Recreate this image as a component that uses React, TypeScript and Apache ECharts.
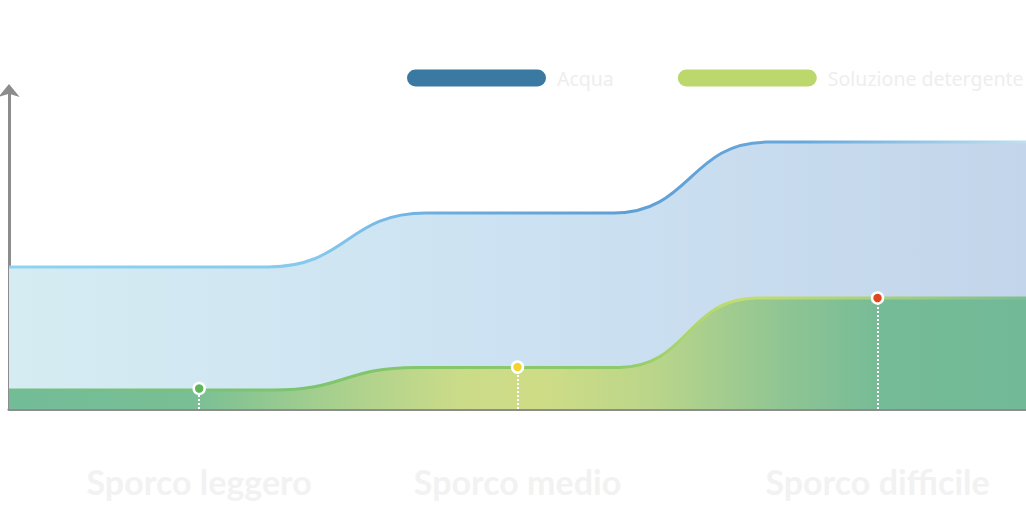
import { useEffect, useRef } from "react";
import * as echarts from "echarts";

// ---- data ----
const seriesNames = ["Acqua", "Soluzione detergente"];
// x in 0..100 across the plot, y in 0..100 of the axis height
const acquaX = [0, 25.5, 41, 59.5, 74.5, 100];
const acquaY = [44.4, 44.4, 61.25, 61.25, 83.4, 83.4];
const soluzioneX = [0, 26, 40, 60, 73.5, 100];
const soluzioneY = [5.9, 5.9, 13.0, 13.0, 34.7, 34.7];

const categories = ["Sporco leggero", "Sporco medio", "Sporco difficile"];
const categoryX = [18.7, 50, 85.4];
const markerY = [6.4, 13.1, 34.7];
const markerColors = ["#5db65a", "#f3d42c", "#e0471e"];

const LEGEND_ICON = "path://M8.5 0H130.5A8.5 8.5 0 0 1 130.5 17H8.5A8.5 8.5 0 0 1 8.5 0Z";

function pairs(xs: number[], ys: number[]) {
  return xs.map((x, i) => [x, ys[i]]);
}

function hGrad(stops: [number, string][]) {
  return new echarts.graphic.LinearGradient(
    0, 0, 1, 0,
    stops.map(([offset, color]) => ({ offset, color }))
  );
}

function buildOption(): echarts.EChartsOption {
  return {
    animation: false,
    backgroundColor: "#ffffff",
    legend: {
      left: 407,
      top: 68,
      width: 700,
      padding: 0,
      itemWidth: 139,
      itemHeight: 17,
      itemGap: 64,
      textStyle: {
        color: "#eeeeee",
        fontSize: 19.5,
        fontFamily: "Noto Sans",
        padding: [0, 0, 0, 6],
      },
      data: [
        { name: seriesNames[0], icon: LEGEND_ICON, itemStyle: { color: "#3a79a2" } },
        { name: seriesNames[1], icon: LEGEND_ICON, itemStyle: { color: "#bcd86d" } },
      ],
    },
    grid: { left: 9, right: 0, top: 89, bottom: 98 },
    xAxis: {
      type: "value",
      min: 0,
      max: 100,
      splitLine: { show: false },
      axisTick: { show: false },
      axisLine: { lineStyle: { color: "#8c8c8c", width: 3 } },
      axisLabel: {
        customValues: categoryX,
        formatter: (v: number) => categories[categoryX.indexOf(v)] ?? "",
        color: "#f2f2f2",
        fontSize: 34,
        fontWeight: "bold",
        fontFamily: "Lato",
        margin: 55,
      },
    },
    yAxis: {
      type: "value",
      min: 0,
      max: 100,
      splitLine: { show: false },
      axisTick: { show: false },
      axisLabel: { show: false },
      axisLine: {
        show: true,
        symbol: ["none", "arrow"],
        symbolSize: [16, 13],
        symbolOffset: [0, 5],
        lineStyle: { color: "#8c8c8c", width: 3 },
      },
    },
    series: [
      {
        name: seriesNames[0],
        type: "line",
        data: pairs(acquaX, acquaY),
        smooth: 0.5,
        smoothMonotone: "x",
        symbol: "none",
        lineStyle: {
          width: 3,
          color: hGrad([
            [0, "#8fd3f1"],
            [0.3, "#86c9ed"],
            [0.42, "#6caee0"],
            [0.6, "#5f9fd6"],
            [0.78, "#66a8dc"],
            [1, "#bfe0f0"],
          ]),
        },
        areaStyle: {
          opacity: 1,
          color: hGrad([
            [0, "#d5ecf2"],
            [0.5, "#cce2f2"],
            [1, "#c3d5ea"],
          ]),
        },
        z: 1,
      },
      {
        name: seriesNames[1],
        type: "line",
        data: pairs(soluzioneX, soluzioneY),
        smooth: 0.5,
        smoothMonotone: "x",
        symbol: "none",
        lineStyle: {
          width: 3,
          color: hGrad([
            [0, "#74be8e"],
            [0.3, "#7fc46c"],
            [0.6, "#8fca6a"],
            [0.72, "#c3de6e"],
            [0.85, "#a9d27a"],
            [1, "#7dbf92"],
          ]),
        },
        areaStyle: {
          opacity: 1,
          color: hGrad([
            [0, "#72bc98"],
            [0.18, "#79bf95"],
            [0.31, "#a5cf8e"],
            [0.44, "#cadb89"],
            [0.52, "#cfdc86"],
            [0.63, "#bbd68a"],
            [0.76, "#90c593"],
            [0.86, "#75bb97"],
            [1, "#72b997"],
          ]),
        },
        // dotted drop lines under the markers
        markLine: {
          silent: true,
          symbol: "none",
          label: { show: false },
          lineStyle: { color: "#ffffff", type: [2, 2], width: 2, opacity: 1 },
          data: categoryX.map((x, i) => [
            { coord: [x, 0] },
            { coord: [x, markerY[i]] },
          ]),
        },
        z: 2,
      },
      {
        name: "marker",
        type: "scatter",
        data: categoryX.map((x, i) => ({
          value: [x, markerY[i]],
          itemStyle: { color: markerColors[i] },
        })),
        symbolSize: 11,
        itemStyle: { borderColor: "#ffffff", borderWidth: 2.5, opacity: 1 },
        z: 5,
      },
    ],
  };
}

export default function App() {
  const ref = useRef<HTMLDivElement>(null);

  useEffect(() => {
    if (!ref.current) return;
    const chart = echarts.init(ref.current, undefined, { renderer: "svg" });
    chart.setOption(buildOption());
    return () => chart.dispose();
  }, []);

  return (
    <div
      ref={ref}
      style={{ position: "absolute", left: 0, top: 0, width: 1026, height: 507 }}
    />
  );
}
